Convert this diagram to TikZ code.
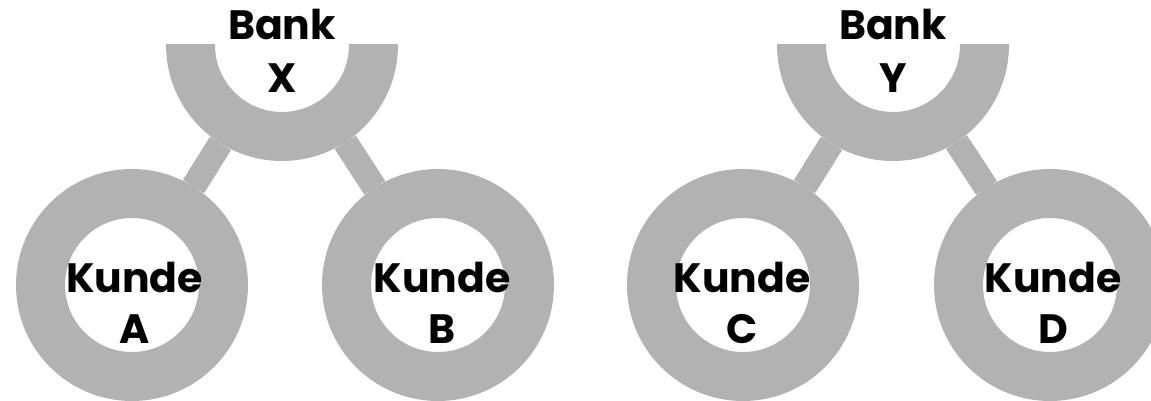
\documentclass[tikz,border=0pt]{standalone}
\usepackage{fontspec}
\setmainfont{Poppins}
\definecolor{ringgray}{RGB}{178,178,178}
\begin{document}
\begin{tikzpicture}[x=1pt,y=-1pt,
  ring/.style={circle, draw=ringgray, line width=49pt, minimum size=183pt, inner sep=0pt},
  bar/.style={draw=ringgray, line width=25pt},
  lbl/.style={font=\fontsize{41}{51}\selectfont\bfseries, align=center, inner sep=0pt},
  blbl/.style={font=\fontsize{41}{53}\selectfont\bfseries, align=center, inner sep=0pt}]
\useasboundingbox (0,0) rectangle (1151,401);
\clip (0,0) rectangle (1151,401);
\begin{scope}
  \clip (0,45) rectangle (1151,401);
  \node[ring] (bx) at (282,45) {};
  \node[ring] (by) at (893,45) {};
\end{scope}
\node[ring] (ka) at (132,285) {};
\node[ring] (kb) at (438,285) {};
\node[ring] (kc) at (743,285) {};
\node[ring] (kd) at (1050,285) {};
\draw[bar] (bx) -- (ka);
\draw[bar] (bx) -- (kb);
\draw[bar] (by) -- (kc);
\draw[bar] (by) -- (kd);
\node[blbl] (tx) at (282,50.5) {Bank\\X};
\node[blbl] (ty) at (893,50.5) {Bank\\Y};
\node[lbl] (ta) at (134.5,302.5) {Kunde\\A};
\node[lbl] (tb) at (442,302.5) {Kunde\\B};
\node[lbl] (tc) at (742,302.5) {Kunde\\C};
\node[lbl] (td) at (1053,302.5) {Kunde\\D};
\end{tikzpicture}
\end{document}
